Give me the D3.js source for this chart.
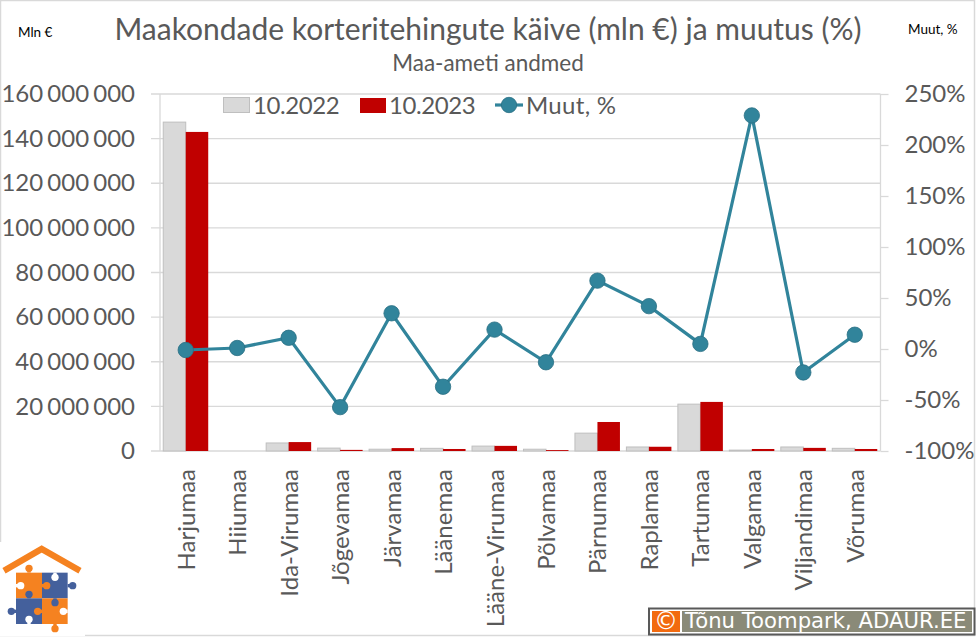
<!DOCTYPE html>
<html>
<head>
<meta charset="utf-8">
<script src="https://cdn.jsdelivr.net/npm/d3@7"></script>
<style>
  html, body { margin: 0; padding: 0; background: #fff; }
  svg { display: block; }
  text { font-family: Lato, "Open Sans", sans-serif; fill: #595959; }
  .axis path { display: none; }
  .axis line { stroke: #d9d9d9; stroke-width: 1.3; }
  .grid line { stroke: #d9d9d9; stroke-width: 1.3; }
  .axis text { font-size: 24px; word-spacing: -2px; }
</style>
</head>
<body>
<svg id="chart" width="976" height="637"></svg>
<script>
const categories = ["Harjumaa", "Hiiumaa", "Ida-Virumaa", "Jõgevamaa", "Järvamaa", "Läänemaa", "Lääne-Virumaa",
  "Põlvamaa", "Pärnumaa", "Raplamaa", "Tartumaa", "Valgamaa", "Viljandimaa", "Võrumaa"];
const values2022 = [147400000, 0, 3600000, 1300000, 800000, 1200000, 2200000,
  800000, 8000000, 1800000, 21000000, 400000, 1800000, 1200000];
const values2023 = [143000000, 0, 4000000, 500000, 1300000, 900000, 2300000,
  400000, 13000000, 1900000, 22000000, 900000, 1400000, 900000];
const change = [-1, 1, 11, -57, 35, -37, 19, -13, 67, 42, 5, 229, -23, 14];
const leftTicks = [0, 20000000, 40000000, 60000000, 80000000, 100000000, 120000000, 140000000, 160000000];
const rightTicks = [-100, -50, 0, 50, 100, 150, 200, 250];

const svg = d3.select("#chart");
const plot = { left: 160, right: 880.5, top: 94, bottom: 451 };
const lineColor = "#31849b";

// raam
svg.append("rect").attr("x", 0.5).attr("y", 0.5).attr("width", 974).attr("height", 635)
  .attr("fill", "#fff").attr("stroke", "#d9d9d9").attr("stroke-width", 1.5);

const x = d3.scaleBand().domain(categories).range([plot.left, plot.right]);
const barW = 22.5;
const yLeft = d3.scaleLinear().domain([0, 160000000]).range([plot.bottom, plot.top]);
const yRight = d3.scaleLinear().domain([-100, 250]).range([plot.bottom, plot.top]);
const fmt = d3.formatLocale({ decimal: ",", thousands: " ", grouping: [3], currency: ["", "€"] }).format(",d");

// ruudustik
svg.append("g").attr("class", "grid")
  .selectAll("line").data(leftTicks).join("line")
  .attr("x1", 151).attr("x2", plot.right)
  .attr("y1", d => yLeft(d)).attr("y2", d => yLeft(d));

svg.append("g").attr("class", "axis")
  .attr("transform", `translate(${plot.left},0)`)
  .call(d3.axisLeft(yLeft).tickValues(leftTicks).tickFormat(fmt).tickSize(0).tickPadding(25));

svg.append("g").attr("class", "axis")
  .attr("transform", `translate(${plot.right},0)`)
  .call(d3.axisRight(yRight).tickValues(rightTicks).tickFormat(d => d + "%").tickSize(8).tickPadding(16));

svg.append("g").attr("class", "grid")
  .call(g => g.append("line").attr("x1", plot.left).attr("x2", plot.left).attr("y1", plot.top).attr("y2", plot.bottom))
  .call(g => g.append("line").attr("x1", plot.right).attr("x2", plot.right).attr("y1", plot.top).attr("y2", plot.bottom));

// tulbad
svg.append("g").selectAll("rect").data(categories).join("rect")
  .attr("x", d => x(d) + x.bandwidth() / 2 - barW)
  .attr("width", barW)
  .attr("y", (d, i) => yLeft(values2022[i]))
  .attr("height", (d, i) => yLeft(0) - yLeft(values2022[i]))
  .attr("fill", "#d9d9d9").attr("stroke", "#bfbfbf").attr("stroke-width", 1);

svg.append("g").selectAll("rect").data(categories).join("rect")
  .attr("x", d => x(d) + x.bandwidth() / 2)
  .attr("width", barW)
  .attr("y", (d, i) => yLeft(values2023[i]))
  .attr("height", (d, i) => yLeft(0) - yLeft(values2023[i]))
  .attr("fill", "#c00000");

// kategooriad
svg.append("g").selectAll("text").data(categories).join("text")
  .attr("transform", d => `translate(${x(d) + x.bandwidth() / 2 + 9},469) rotate(-90)`)
  .attr("text-anchor", "end")
  .attr("font-size", 24)
  .text(d => d);

// muutuse joon
const line = d3.line().x((d, i) => x(categories[i]) + x.bandwidth() / 2).y(d => yRight(d));
svg.append("path").datum(change).attr("d", line)
  .attr("fill", "none").attr("stroke", lineColor).attr("stroke-width", 3.2);
svg.append("g").selectAll("circle").data(change).join("circle")
  .attr("cx", (d, i) => x(categories[i]) + x.bandwidth() / 2)
  .attr("cy", d => yRight(d))
  .attr("r", 7.7)
  .attr("fill", lineColor).attr("stroke", "#2a6f83").attr("stroke-width", 0.8);

// pealkirjad
svg.append("text").attr("x", 488).attr("y", 40).attr("text-anchor", "middle")
  .attr("font-size", 30).text("Maakondade korteritehingute käive (mln €) ja muutus (%)");
svg.append("text").attr("x", 488).attr("y", 71).attr("text-anchor", "middle")
  .attr("font-size", 22.5).text("Maa-ameti andmed");
svg.append("text").attr("x", 18).attr("y", 37).attr("font-size", 13.5).style("fill", "#000").text("Mln €");
svg.append("text").attr("x", 908).attr("y", 34).attr("font-size", 13.5).style("fill", "#000").text("Muut, %");

// legend
const legend = svg.append("g").attr("font-size", 24);
legend.append("rect").attr("x", 223.5).attr("y", 97.5).attr("width", 26).attr("height", 15)
  .attr("fill", "#d9d9d9").attr("stroke", "#bfbfbf");
legend.append("text").attr("x", 253).attr("y", 113.5).attr("letter-spacing", -0.4).text("10.2022");
legend.append("rect").attr("x", 360).attr("y", 98).attr("width", 26).attr("height", 15).attr("fill", "#c00000");
legend.append("text").attr("x", 389).attr("y", 113.5).attr("letter-spacing", -0.4).text("10.2023");
legend.append("line").attr("x1", 495).attr("x2", 523).attr("y1", 105).attr("y2", 105)
  .attr("stroke", lineColor).attr("stroke-width", 3.2);
legend.append("circle").attr("cx", 509).attr("cy", 105).attr("r", 7.7)
  .attr("fill", lineColor).attr("stroke", "#2a6f83").attr("stroke-width", 0.8);
legend.append("text").attr("x", 526).attr("y", 113.5).attr("letter-spacing", 0.3).text("Muut, %");

// logo
const orange = "#f58220", blue = "#44609c";
svg.append("rect").attr("x", 0).attr("y", 542).attr("width", 85).attr("height", 94).attr("fill", "#fff");
const logo = svg.append("g").attr("transform", "translate(0,530) scale(0.3333)");
logo.append("path").attr("d", "M12,122 L125,57 L240,122").attr("fill", "none").attr("stroke", orange).attr("stroke-width", 19);
logo.append("rect").attr("x", 48).attr("y", 128).attr("width", 78).attr("height", 77).attr("fill", orange);
logo.append("rect").attr("x", 126).attr("y", 128).attr("width", 77).attr("height", 77).attr("fill", blue);
logo.append("rect").attr("x", 48).attr("y", 205).attr("width", 78).attr("height", 77).attr("fill", blue);
logo.append("rect").attr("x", 126).attr("y", 205).attr("width", 77).attr("height", 77).attr("fill", orange);
// pusletükkide nupud: keskpunkt, serv, värv
const knobs = [
  [87, 115, 87, 128, orange], [140, 167, 126, 167, orange], [218, 167, 203, 167, blue],
  [87, 193, 87, 205, blue], [34, 244, 48, 244, blue], [113, 244, 126, 244, orange],
  [165, 218, 165, 205, blue], [165, 296, 165, 282, orange],
  [62, 167, 48, 167, "#fff"], [165, 142, 165, 128, "#fff"], [190, 244, 203, 244, "#fff"], [87, 268, 87, 282, "#fff"]
];
logo.selectAll("line").data(knobs).join("line")
  .attr("x1", d => d[0]).attr("y1", d => d[1]).attr("x2", d => d[2]).attr("y2", d => d[3])
  .attr("stroke", d => d[4]).attr("stroke-width", 10);
logo.selectAll("circle").data(knobs).join("circle")
  .attr("cx", d => d[0]).attr("cy", d => d[1]).attr("r", 11).attr("fill", d => d[4]);

// autoriõigus
const badge = svg.append("g");
badge.append("rect").attr("x", 649).attr("y", 608.5).attr("width", 325.5).attr("height", 26)
  .attr("fill", "#fff").attr("stroke", "#595959").attr("stroke-width", 2);
badge.append("rect").attr("x", 652).attr("y", 611).attr("width", 28).attr("height", 21).attr("fill", "#f26a0f");
badge.append("rect").attr("x", 682).attr("y", 611).attr("width", 290).attr("height", 21).attr("fill", "#8a8a78");
badge.append("text").attr("x", 666).attr("y", 629).attr("text-anchor", "middle").attr("font-size", 24)
  .style("font-family", "DejaVu Sans").style("fill", "#fff").text("©");
badge.append("text").attr("x", 685).attr("y", 628).attr("font-size", 21.2)
  .style("font-family", "DejaVu Sans").style("fill", "#fff").text("Tõnu Toompark, ADAUR.EE");
</script>
</body>
</html>
